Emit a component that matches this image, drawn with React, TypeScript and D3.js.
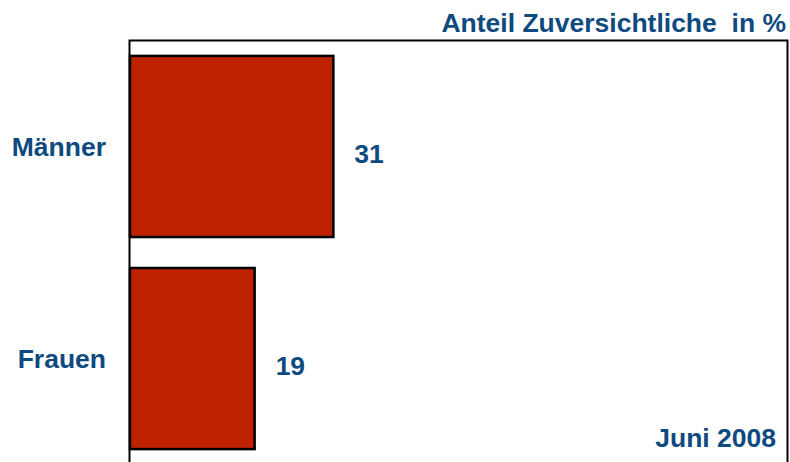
import React from "react";
import * as d3 from "d3";

const categories = ["Männer", "Frauen"];
const values = [31, 19];
const title = "Anteil Zuversichtliche\u00A0 in %";
const footnote = "Juni 2008";

const W = 790;
const H = 462;
const TEXT = "#0E4A7F";
const BAR = "#BF2200";
const FONT = "'Liberation Sans', Arial, sans-serif";
const FS = 26.5;

export default function App() {
  const x = d3.scaleLinear().domain([0, 100]).range([130, 786]);
  const y = d3
    .scaleBand<string>()
    .domain(categories)
    .range([40, 465])
    .paddingInner(0.146)
    .paddingOuter(0.075);

  return (
    <svg
      width={W}
      height={H}
      style={{ position: "absolute", left: 0, top: 0, background: "#fff" }}
      fontFamily={FONT}
    >
      <rect x={0} y={0} width={W} height={H} fill="#fff" />
      <path
        d={`M129.5,${H} V40.5 H787.5 V${H}`}
        fill="none"
        stroke="#000"
        strokeWidth={2}
      />
      {categories.map((c, i) => {
        const y0 = y(c)!;
        const bw = y.bandwidth();
        const cy = y0 + bw / 2;
        return (
          <g key={c}>
            <rect
              x={x(0)}
              y={y0}
              width={x(values[i]) - x(0)}
              height={bw}
              fill={BAR}
              stroke="#000"
              strokeWidth={2.5}
            />
            <text
              x={106}
              y={cy}
              dy="0.35em"
              textAnchor="end"
              fontSize={FS}
              fontWeight="bold"
              fill={TEXT}
            >
              {c}
            </text>
            <text
              x={x(values[i]) + 21}
              y={cy + 7}
              dy="0.35em"
              textAnchor="start"
              fontSize={FS}
              fontWeight="bold"
              fill={TEXT}
            >
              {values[i]}
            </text>
          </g>
        );
      })}
      <text
        x={786}
        y={32}
        textAnchor="end"
        fontSize={FS}
        fontWeight="bold"
        fill={TEXT}
      >
        {title}
      </text>
      <text
        x={776}
        y={447}
        textAnchor="end"
        fontSize={FS}
        fontWeight="bold"
        fill={TEXT}
      >
        {footnote}
      </text>
    </svg>
  );
}
